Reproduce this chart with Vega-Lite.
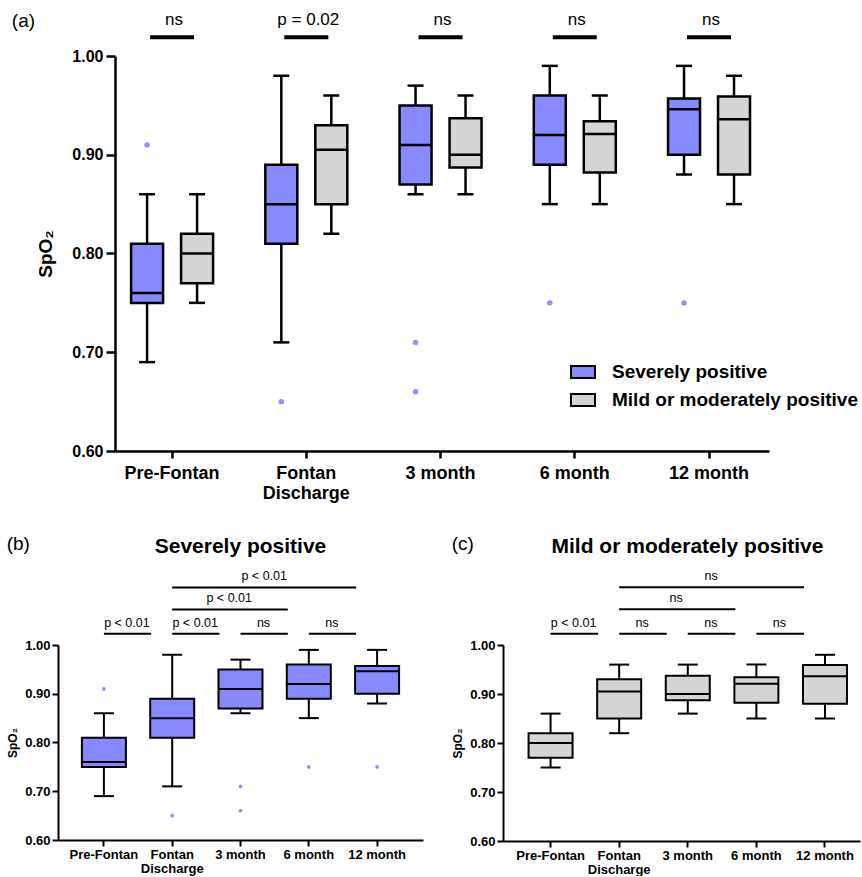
{
  "$schema": "https://vega.github.io/schema/vega-lite/v6.json",
  "padding": {"left": 6, "top": 11, "right": 0, "bottom": 0},
  "background": "white",
  "config": {
    "font": "Liberation Sans",
    "view": {"stroke": null},
    "axis": {"grid": false, "domainColor": "black", "tickColor": "black", "labelColor": "black", "titleColor": "black", "labelFontWeight": "bold", "titleFontWeight": "bold"},
    "title": {"color": "black"},
    "text": {"color": "black", "font": "Liberation Sans"}
  },
  "datasets": {
    "boxes": [
      {"time": "Pre-Fontan", "group": "Severely positive", "min": 0.69, "q1": 0.75, "median": 0.76, "q3": 0.81, "max": 0.86},
      {"time": "Pre-Fontan", "group": "Mild or moderately positive", "min": 0.75, "q1": 0.77, "median": 0.80, "q3": 0.82, "max": 0.86},
      {"time": "Fontan Discharge", "group": "Severely positive", "min": 0.71, "q1": 0.81, "median": 0.85, "q3": 0.89, "max": 0.98},
      {"time": "Fontan Discharge", "group": "Mild or moderately positive", "min": 0.82, "q1": 0.85, "median": 0.905, "q3": 0.93, "max": 0.96},
      {"time": "3 month", "group": "Severely positive", "min": 0.86, "q1": 0.87, "median": 0.91, "q3": 0.95, "max": 0.97},
      {"time": "3 month", "group": "Mild or moderately positive", "min": 0.86, "q1": 0.887, "median": 0.90, "q3": 0.937, "max": 0.96},
      {"time": "6 month", "group": "Severely positive", "min": 0.85, "q1": 0.89, "median": 0.92, "q3": 0.96, "max": 0.99},
      {"time": "6 month", "group": "Mild or moderately positive", "min": 0.85, "q1": 0.882, "median": 0.921, "q3": 0.934, "max": 0.96},
      {"time": "12 month", "group": "Severely positive", "min": 0.88, "q1": 0.90, "median": 0.946, "q3": 0.957, "max": 0.99},
      {"time": "12 month", "group": "Mild or moderately positive", "min": 0.85, "q1": 0.88, "median": 0.936, "q3": 0.959, "max": 0.98}
    ],
    "outliers": [
      {"time": "Pre-Fontan", "group": "Severely positive", "value": 0.91},
      {"time": "Fontan Discharge", "group": "Severely positive", "value": 0.65},
      {"time": "3 month", "group": "Severely positive", "value": 0.71},
      {"time": "3 month", "group": "Severely positive", "value": 0.66},
      {"time": "6 month", "group": "Severely positive", "value": 0.75},
      {"time": "12 month", "group": "Severely positive", "value": 0.75}
    ],
    "sigA": [
      {"time": "Pre-Fontan", "label": "ns", "y": 1.019},
      {"time": "Fontan Discharge", "label": "p = 0.02", "y": 1.019},
      {"time": "3 month", "label": "ns", "y": 1.019},
      {"time": "6 month", "label": "ns", "y": 1.019},
      {"time": "12 month", "label": "ns", "y": 1.019}
    ],
    "sig": [
      {"panel": "b", "from": "Pre-Fontan", "to": "Fontan Discharge", "label": "p < 0.01", "level": 1, "y": 1.023},
      {"panel": "b", "from": "Fontan Discharge", "to": "3 month", "label": "p < 0.01", "level": 1, "y": 1.023},
      {"panel": "b", "from": "3 month", "to": "6 month", "label": "ns", "level": 1, "y": 1.023},
      {"panel": "b", "from": "6 month", "to": "12 month", "label": "ns", "level": 1, "y": 1.023},
      {"panel": "b", "from": "Fontan Discharge", "to": "6 month", "label": "p < 0.01", "level": 2, "y": 1.073},
      {"panel": "b", "from": "Fontan Discharge", "to": "12 month", "label": "p < 0.01", "level": 3, "y": 1.118},
      {"panel": "c", "from": "Pre-Fontan", "to": "Fontan Discharge", "label": "p < 0.01", "level": 1, "y": 1.023},
      {"panel": "c", "from": "Fontan Discharge", "to": "3 month", "label": "ns", "level": 1, "y": 1.023},
      {"panel": "c", "from": "3 month", "to": "6 month", "label": "ns", "level": 1, "y": 1.023},
      {"panel": "c", "from": "6 month", "to": "12 month", "label": "ns", "level": 1, "y": 1.023},
      {"panel": "c", "from": "Fontan Discharge", "to": "6 month", "label": "ns", "level": 2, "y": 1.073},
      {"panel": "c", "from": "Fontan Discharge", "to": "12 month", "label": "ns", "level": 3, "y": 1.118}
    ]
  },
  "resolve": {"scale": {"color": "independent"}},
  "spacing": 33,
  "align": "none",
  "vconcat": [
    {
      "spacing": -51,
      "align": "none",
      "resolve": {"scale": {"color": "independent"}},
      "hconcat": [
        {
          "width": 1,
          "height": 1,
          "data": {"values": [{}]},
          "mark": {"type": "point", "opacity": 0}
        },
        {
          "width": 654,
          "height": 395,
          "title": {"text": "(a)", "anchor": "start", "frame": "bounds", "fontSize": 19, "fontWeight": "normal", "offset": -20, "dx": -25},
          "encoding": {
            "x": {"field": "time", "type": "nominal", "title": null,
              "scale": {"domain": ["Pre-Fontan", "Fontan Discharge", "3 month", "6 month", "12 month"], "paddingInner": 0.2, "paddingOuter": 0.036, "align": 0.35},
              "axis": {"labelAngle": 0, "labelFontSize": 18, "labelPadding": 6, "labelLineHeight": 20, "tickSize": 7, "tickWidth": 2.5, "domainWidth": 2.5, "labelExpr": "datum.value == 'Fontan Discharge' ? ['Fontan', 'Discharge'] : datum.value"}}
          },
          "layer": [
            {
              "data": {"name": "boxes"},
              "encoding": {
                "xOffset": {"field": "group", "type": "nominal", "scale": {"domain": ["Severely positive", "Mild or moderately positive"], "paddingInner": 0, "paddingOuter": 0.074}}
              },
              "layer": [
                {"mark": {"type": "rule", "color": "black", "strokeWidth": 2.5},
                  "encoding": {
                    "y": {"field": "min", "type": "quantitative", "title": "SpO₂",
                      "scale": {"domain": [0.6, 1.0], "nice": false, "zero": false},
                      "axis": {"values": [0.6, 0.7, 0.8, 0.9, 1.0], "format": ".2f", "labelFontSize": 16, "labelPadding": 3, "tickSize": 9, "tickWidth": 2.5, "domainWidth": 2.5, "titleFontSize": 19, "titlePadding": 16}},
                    "y2": {"field": "max"}}},
                {"mark": {"type": "bar", "stroke": "black", "strokeWidth": 2.5, "size": 32, "opacity": 1},
                  "encoding": {
                    "y": {"field": "q1", "type": "quantitative"},
                    "y2": {"field": "q3"},
                    "color": {"field": "group", "type": "nominal",
                      "scale": {"domain": ["Severely positive", "Mild or moderately positive"], "range": ["#8989ff", "#d4d4d4"]},
                      "legend": {"title": null, "orient": "none", "legendX": 445, "legendY": 293, "padding": 10, "labelLimit": 400, "labelFontSize": 19, "labelFontWeight": "bold", "labelColor": "black", "symbolType": "M-1,-0.5H1V0.5H-1Z", "symbolSize": 576, "symbolStrokeColor": "black", "symbolStrokeWidth": 2, "symbolOpacity": 1, "rowPadding": 5, "labelOffset": 16}}}},
                {"mark": {"type": "tick", "color": "black", "thickness": 2.5, "size": 32, "opacity": 1},
                  "encoding": {"y": {"field": "median", "type": "quantitative"}}},
                {"mark": {"type": "tick", "color": "black", "thickness": 2.5, "size": 16, "opacity": 1},
                  "encoding": {"y": {"field": "min", "type": "quantitative"}}},
                {"mark": {"type": "tick", "color": "black", "thickness": 2.5, "size": 16, "opacity": 1},
                  "encoding": {"y": {"field": "max", "type": "quantitative"}}}
              ]
            },
            {
              "data": {"name": "outliers"},
              "mark": {"type": "point", "filled": true, "color": "#8f8fff", "size": 30, "opacity": 1},
              "encoding": {
                "xOffset": {"field": "group", "type": "nominal", "scale": {"domain": ["Severely positive", "Mild or moderately positive"], "paddingInner": 0, "paddingOuter": 0.074}},
                "y": {"field": "value", "type": "quantitative"}
              }
            },
            {
              "data": {"name": "sigA"},
              "mark": {"type": "tick", "color": "black", "thickness": 4, "size": 44, "opacity": 1},
              "encoding": {"y": {"field": "y", "type": "quantitative"}}
            },
            {
              "data": {"name": "sigA"},
              "mark": {"type": "text", "fontSize": 17, "baseline": "middle", "dy": -17, "dx": 2},
              "encoding": {"y": {"field": "y", "type": "quantitative"}, "text": {"field": "label"}}
            }
          ]
        }
      ]
    },
    {
      "spacing": 28,
      "align": "none",
      "hconcat": [
        {
          "title": {"text": "(b)", "anchor": "start", "frame": "bounds", "fontSize": 19, "fontWeight": "normal", "offset": -18},
          "vconcat": [
            {
              "width": 365,
              "height": 195,
              "title": {"text": "Severely positive", "fontSize": 21, "fontWeight": "bold", "anchor": "middle", "frame": "group", "offset": 13},
              "encoding": {
                "x": {"field": "time", "type": "nominal", "title": null,
                  "scale": {"domain": ["Pre-Fontan", "Fontan Discharge", "3 month", "6 month", "12 month"], "paddingInner": 0.5, "paddingOuter": 0.422, "align": 0.5},
                  "axis": {"labelAngle": 0, "labelFontSize": 13, "labelPadding": 2, "labelLineHeight": 14, "tickSize": 6, "tickWidth": 2, "domainWidth": 2, "labelExpr": "datum.value == 'Fontan Discharge' ? ['Fontan', 'Discharge'] : datum.value"}}
              },
              "layer": [
                {
                  "data": {"name": "boxes"},
                  "transform": [{"filter": "datum.group == 'Severely positive'"}],
                  "layer": [
                    {"mark": {"type": "rule", "color": "black", "strokeWidth": 2},
                      "encoding": {
                        "y": {"field": "min", "type": "quantitative", "title": "SpO₂",
                          "scale": {"domain": [0.6, 1.0], "nice": false, "zero": false},
                          "axis": {"values": [0.6, 0.7, 0.8, 0.9, 1.0], "format": ".2f", "labelFontSize": 13, "labelPadding": 2, "tickSize": 6, "tickWidth": 2, "domainWidth": 2, "titleFontSize": 12, "titlePadding": 5}},
                        "y2": {"field": "max"}}},
                    {"mark": {"type": "bar", "fill": "#8989ff", "stroke": "black", "strokeWidth": 2, "size": 44, "opacity": 1},
                      "encoding": {"y": {"field": "q1", "type": "quantitative"}, "y2": {"field": "q3"}}},
                    {"mark": {"type": "tick", "color": "black", "thickness": 2, "size": 44, "opacity": 1},
                      "encoding": {"y": {"field": "median", "type": "quantitative"}}},
                    {"mark": {"type": "tick", "color": "black", "thickness": 2, "size": 20, "opacity": 1},
                      "encoding": {"y": {"field": "min", "type": "quantitative"}}},
                    {"mark": {"type": "tick", "color": "black", "thickness": 2, "size": 20, "opacity": 1},
                      "encoding": {"y": {"field": "max", "type": "quantitative"}}}
                  ]
                },
                {
                  "data": {"name": "outliers"},
                  "mark": {"type": "point", "filled": true, "color": "#8f8fff", "size": 14, "opacity": 1},
                  "encoding": {"y": {"field": "value", "type": "quantitative"}}
                },
                {
                  "data": {"name": "sig"},
                  "transform": [{"filter": "datum.panel == 'b'"}],
                  "mark": {"type": "rule", "color": "black", "strokeWidth": 2, "x2Offset": -21},
                  "encoding": {"x": {"field": "from", "type": "nominal"}, "x2": {"field": "to"}, "y": {"field": "y", "type": "quantitative"}}
                },
                {
                  "data": {"name": "sig"},
                  "transform": [{"filter": "datum.panel == 'b' && datum.level == 1"}],
                  "mark": {"type": "text", "fontSize": 12.5, "baseline": "middle", "dy": -11, "dx": 23},
                  "encoding": {"x": {"field": "from", "type": "nominal"}, "y": {"field": "y", "type": "quantitative"}, "text": {"field": "label"}}
                },
                {
                  "data": {"name": "sig"},
                  "transform": [{"filter": "datum.panel == 'b' && datum.level == 2"}],
                  "mark": {"type": "text", "fontSize": 12.5, "baseline": "middle", "dy": -11, "dx": 57},
                  "encoding": {"x": {"field": "from", "type": "nominal"}, "y": {"field": "y", "type": "quantitative"}, "text": {"field": "label"}}
                },
                {
                  "data": {"name": "sig"},
                  "transform": [{"filter": "datum.panel == 'b' && datum.level == 3"}],
                  "mark": {"type": "text", "fontSize": 12.5, "baseline": "middle", "dy": -11, "dx": 92},
                  "encoding": {"x": {"field": "from", "type": "nominal"}, "y": {"field": "y", "type": "quantitative"}, "text": {"field": "label"}}
                }
              ]
            }
          ]
        },
        {
          "title": {"text": "(c)", "anchor": "start", "frame": "bounds", "fontSize": 19, "fontWeight": "normal", "offset": -18},
          "vconcat": [
            {
              "width": 357,
              "height": 196,
              "title": {"text": "Mild or moderately positive", "fontSize": 21, "fontWeight": "bold", "anchor": "middle", "frame": "group", "offset": 13, "dx": 6},
              "encoding": {
                "x": {"field": "time", "type": "nominal", "title": null,
                  "scale": {"domain": ["Pre-Fontan", "Fontan Discharge", "3 month", "6 month", "12 month"], "paddingInner": 0.5, "paddingOuter": 0.352, "align": 0.63},
                  "axis": {"labelAngle": 0, "labelFontSize": 13, "labelPadding": 2, "labelLineHeight": 14, "tickSize": 6, "tickWidth": 2, "domainWidth": 2, "labelExpr": "datum.value == 'Fontan Discharge' ? ['Fontan', 'Discharge'] : datum.value"}}
              },
              "layer": [
                {
                  "data": {"name": "boxes"},
                  "transform": [{"filter": "datum.group == 'Mild or moderately positive'"}],
                  "layer": [
                    {"mark": {"type": "rule", "color": "black", "strokeWidth": 2},
                      "encoding": {
                        "y": {"field": "min", "type": "quantitative", "title": "SpO₂",
                          "scale": {"domain": [0.6, 1.0], "nice": false, "zero": false},
                          "axis": {"values": [0.6, 0.7, 0.8, 0.9, 1.0], "format": ".2f", "labelFontSize": 13, "labelPadding": 2, "tickSize": 6, "tickWidth": 2, "domainWidth": 2, "titleFontSize": 12, "titlePadding": 5}},
                        "y2": {"field": "max"}}},
                    {"mark": {"type": "bar", "fill": "#d4d4d4", "stroke": "black", "strokeWidth": 2, "size": 44, "opacity": 1},
                      "encoding": {"y": {"field": "q1", "type": "quantitative"}, "y2": {"field": "q3"}}},
                    {"mark": {"type": "tick", "color": "black", "thickness": 2, "size": 44, "opacity": 1},
                      "encoding": {"y": {"field": "median", "type": "quantitative"}}},
                    {"mark": {"type": "tick", "color": "black", "thickness": 2, "size": 20, "opacity": 1},
                      "encoding": {"y": {"field": "min", "type": "quantitative"}}},
                    {"mark": {"type": "tick", "color": "black", "thickness": 2, "size": 20, "opacity": 1},
                      "encoding": {"y": {"field": "max", "type": "quantitative"}}}
                  ]
                },
                {
                  "data": {"name": "sig"},
                  "transform": [{"filter": "datum.panel == 'c'"}],
                  "mark": {"type": "rule", "color": "black", "strokeWidth": 2, "x2Offset": -21},
                  "encoding": {"x": {"field": "from", "type": "nominal"}, "x2": {"field": "to"}, "y": {"field": "y", "type": "quantitative"}}
                },
                {
                  "data": {"name": "sig"},
                  "transform": [{"filter": "datum.panel == 'c' && datum.level == 1"}],
                  "mark": {"type": "text", "fontSize": 12.5, "baseline": "middle", "dy": -11, "dx": 23},
                  "encoding": {"x": {"field": "from", "type": "nominal"}, "y": {"field": "y", "type": "quantitative"}, "text": {"field": "label"}}
                },
                {
                  "data": {"name": "sig"},
                  "transform": [{"filter": "datum.panel == 'c' && datum.level == 2"}],
                  "mark": {"type": "text", "fontSize": 12.5, "baseline": "middle", "dy": -11, "dx": 57},
                  "encoding": {"x": {"field": "from", "type": "nominal"}, "y": {"field": "y", "type": "quantitative"}, "text": {"field": "label"}}
                },
                {
                  "data": {"name": "sig"},
                  "transform": [{"filter": "datum.panel == 'c' && datum.level == 3"}],
                  "mark": {"type": "text", "fontSize": 12.5, "baseline": "middle", "dy": -11, "dx": 92},
                  "encoding": {"x": {"field": "from", "type": "nominal"}, "y": {"field": "y", "type": "quantitative"}, "text": {"field": "label"}}
                }
              ]
            }
          ]
        }
      ]
    }
  ]
}
